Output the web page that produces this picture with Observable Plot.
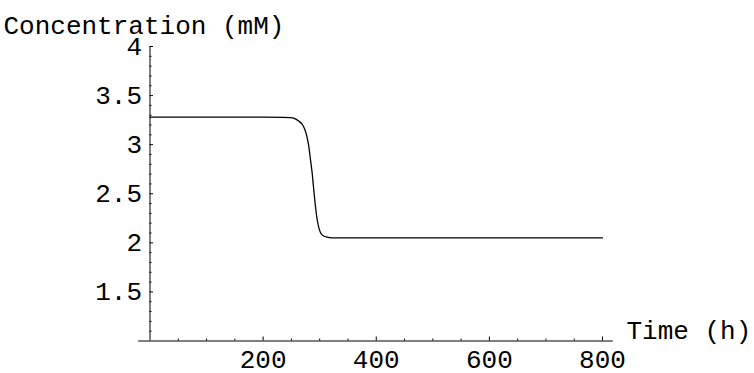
<!DOCTYPE html>
<html>
<head>
<meta charset="utf-8">
<script src="https://cdn.jsdelivr.net/npm/d3@7"></script>
<script src="https://cdn.jsdelivr.net/npm/@observablehq/plot@0.6"></script>
<style>
  html, body { margin: 0; padding: 0; background: #fff; }
  #chart svg { display: block; }
</style>
</head>
<body>
<div id="chart"></div>
<script>
// Concentration time course (mM) over 800 h
const time = [0, 100, 200, 235, 248, 254, 263, 271, 276.5, 280.6, 283.6, 286.6, 289.4,
  292.4, 295.4, 299, 304.2, 313, 322, 340, 400, 500, 600, 700, 800];
const conc = [3.28, 3.28, 3.28, 3.279, 3.276, 3.27, 3.24, 3.19, 3.105, 2.987, 2.852, 2.716, 2.548,
  2.378, 2.243, 2.142, 2.081, 2.057, 2.051, 2.05, 2.05, 2.05, 2.05, 2.05, 2.05];

// Axis ticks
const xMajor = [200, 400, 600, 800];
const xMajorLabels = ["200", "400", "600", "800"];
const xMinor = [50, 100, 150, 250, 300, 350, 450, 500, 550, 650, 700, 750];
const yMajor = [1.5, 2, 2.5, 3, 3.5, 4];
const yMajorLabels = ["1.5", "2", "2.5", "3", "3.5", "4"];
const yMinor = [1.1, 1.2, 1.3, 1.4, 1.6, 1.7, 1.8, 1.9, 2.1, 2.2, 2.3, 2.4, 2.6, 2.7, 2.8, 2.9,
  3.1, 3.2, 3.3, 3.4, 3.6, 3.7, 3.8, 3.9];

const xTitle = "Time (h)";
const yTitle = "Concentration (mM)";

const series = time.map((t, i) => ({t, c: conc[i]}));

const font = "Liberation Mono, Courier New, monospace";
const fs = 26;

const chart = Plot.plot({
  width: 754,
  height: 373,
  marginLeft: 149.5,
  marginRight: 152,
  marginTop: 46,
  marginBottom: 32.5,
  style: {fontFamily: font, fontSize: fs + "px", background: "#fff", color: "#000"},
  x: {domain: [0, 800], axis: null},
  y: {domain: [1, 4], axis: null},
  marks: [
    // axis lines
    Plot.ruleY([1], {x1: -20, x2: 819, stroke: "#000", strokeWidth: 1}),
    Plot.ruleX([0], {y1: 1, y2: 4, stroke: "#000", strokeWidth: 1}),
    // x ticks (pointing up into the plot)
    Plot.axisX({ticks: xMajor, tickSize: -4, text: null, label: null, anchor: "bottom", stroke: "#000"}),
    Plot.axisX({ticks: xMinor, tickSize: -2, text: null, label: null, anchor: "bottom", stroke: "#000"}),
    Plot.text(xMajor, {x: d => d, y: 1, text: (d, i) => xMajorLabels[i], dy: 19,
      fontSize: fs, fontFamily: font, fill: "#000", textAnchor: "middle"}),
    // y ticks (pointing right into the plot)
    Plot.axisY({ticks: yMajor, tickSize: -3.5, text: null, label: null, anchor: "left", stroke: "#000"}),
    Plot.axisY({ticks: yMinor, tickSize: -2, text: null, label: null, anchor: "left", stroke: "#000"}),
    Plot.text(yMajor, {x: 0, y: d => d, text: (d, i) => yMajorLabels[i], dx: -8,
      fontSize: fs, fontFamily: font, fill: "#000", textAnchor: "end"}),
    // curve
    Plot.line(series, {x: "t", y: "c", curve: "monotone-x", stroke: "#000", strokeWidth: 1.3}),
    // axis titles
    Plot.text([yTitle], {frameAnchor: "top-left", dx: -146.5, dy: -30.5, textAnchor: "start",
      fontSize: fs, fontFamily: font, fill: "#000"}),
    Plot.text([xTitle], {frameAnchor: "bottom-right", dx: 24, dy: -1.8, textAnchor: "start",
      fontSize: fs, fontFamily: font, fill: "#000"})
  ]
});

document.getElementById("chart").appendChild(chart);
</script>
</body>
</html>
